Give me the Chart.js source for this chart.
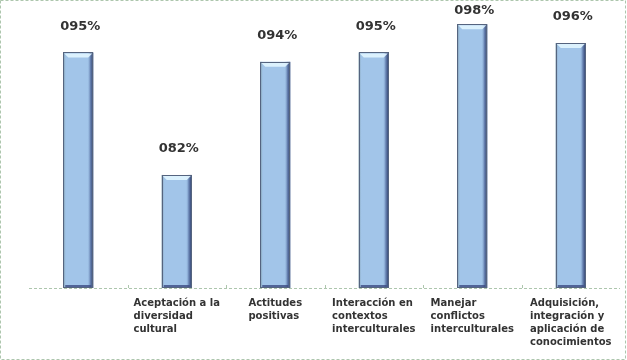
<!DOCTYPE html>
<html>
<head>
<meta charset="utf-8">
<script src="https://cdn.jsdelivr.net/npm/chart.js@4.4.1/dist/chart.umd.min.js"></script>
<style>
  html, body { margin: 0; padding: 0; background: #fff; }
  #wrap { width: 627px; height: 360px; }
</style>
</head>
<body>
<div id="wrap"><canvas id="Chart" width="627" height="360"></canvas></div>
<script>
'use strict';
// ********************* DATA ********************
const categories = [
  [''],
  ['Aceptación a la', 'diversidad', 'cultural'],
  ['Actitudes', 'positivas'],
  ['Interacción en', 'contextos', 'interculturales'],
  ['Manejar', 'conflictos', 'interculturales'],
  ['Adquisición,', 'integración y', 'aplicación de', 'conocimientos']
];
const percentValues = [95, 82, 94, 95, 98, 96];

// ********************* HELPERS ********************
const textColor = '#333333';
const frameColor = '#adc6ad';

function pad3(v) {
  return String(Math.round(v)).padStart(3, '0') + '%';
}

// frame, bar edges/bevels, value labels and wrapped category labels
const decoPlugin = {
  id: 'deco',
  afterDatasetsDraw(chart) {
    const c = chart.ctx;
    const meta = chart.getDatasetMeta(0);
    const xs = chart.scales.x;
    const bottom = chart.chartArea.bottom;
    c.save();
    meta.data.forEach((bar) => {
      const half = bar.width / 2;
      const left = bar.x - half, right = bar.x + half;
      const base = Math.min(bar.base, bottom);
      const h = base - bar.y;
      // side shading
      const g = c.createLinearGradient(left, 0, right, 0);
      g.addColorStop(0, 'rgba(110,135,135,0.9)');
      g.addColorStop(0.1, 'rgba(160,196,232,0)');
      g.addColorStop(0.8, 'rgba(160,196,232,0)');
      g.addColorStop(0.9, 'rgba(90,115,165,0.8)');
      g.addColorStop(1, 'rgba(40,55,100,1)');
      c.fillStyle = g;
      c.fillRect(left, bar.y, bar.width, h);
      // top highlight bevel
      c.fillStyle = 'rgba(225,245,255,0.9)';
      c.beginPath();
      c.moveTo(left + 1, bar.y + 1);
      c.lineTo(right - 1, bar.y + 1);
      c.lineTo(right - 5, bar.y + 5);
      c.lineTo(left + 5, bar.y + 5);
      c.closePath();
      c.fill();
      // bottom dark bevel
      c.fillStyle = 'rgba(60,75,130,0.8)';
      c.fillRect(left + 2, base - 3, bar.width - 4, 2);
      c.strokeStyle = '#55647f';
      c.lineWidth = 1;
      c.strokeRect(Math.round(left) + 0.5, Math.round(bar.y) + 0.5, Math.round(bar.width) - 1, Math.round(h) - 1);
    });

    // axis line with small category separators
    c.strokeStyle = frameColor;
    c.setLineDash([3, 2]);
    c.beginPath();
    c.moveTo(xs.left, xs.top + 0.5);
    c.lineTo(xs.right, xs.top + 0.5);
    c.stroke();
    c.setLineDash([]);
    for (let i = 1; i < categories.length; i++) {
      const x = Math.round((xs.getPixelForValue(i - 1) + xs.getPixelForValue(i)) / 2) + 0.5;
      c.beginPath();
      c.moveTo(x, xs.top - 3);
      c.lineTo(x, xs.top);
      c.stroke();
    }

    // value labels
    c.font = 'bold 13px "DejaVu Sans"';
    c.fillStyle = textColor;
    c.textAlign = 'center';
    c.textBaseline = 'middle';
    meta.data.forEach((bar, i) => {
      const y = Math.max(11, bar.y - 26);
      c.fillText(pad3(percentValues[i]), bar.x + 2, y);
    });

    // category labels: left aligned block, centered under the bar
    c.font = 'bold 10px "DejaVu Sans"';
    c.textAlign = 'left';
    categories.forEach((lines, i) => {
      const cx = xs.getPixelForValue(i);
      let w = 0;
      lines.forEach(l => { w = Math.max(w, c.measureText(l).width); });
      lines.forEach((l, j) => {
        c.fillText(l, cx - w / 2, xs.top + 15 + j * 13);
      });
    });

    // dashed outer frame
    c.strokeStyle = frameColor;
    c.setLineDash([3, 2]);
    c.strokeRect(0.5, 0.5, 625, 359);
    c.restore();
  }
};

// ********************* THE CHART ********************
function renderChart() {
  const chartObj = {
    type: 'bar',
    data: {
      labels: categories.map(l => l.join(' ')),
      datasets: [{
        data: percentValues,
        backgroundColor: '#a2c5e9',
        borderWidth: 0,
        categoryPercentage: 1,
        barPercentage: 0.305
      }]
    },
    options: {
      responsive: false,
      animation: false,
      layout: { padding: { left: 29, right: 7, top: 10, bottom: 0 } },
      plugins: {
        legend: { display: false },
        tooltip: { enabled: false }
      },
      scales: {
        y: { display: false, min: 70, max: 99.5 },
        x: {
          afterFit(scale) { scale.height = 72; },
          ticks: { display: false },
          grid: { display: false },
          border: { display: false }
        }
      }
    },
    plugins: [decoPlugin]
  };
  new Chart(document.getElementById('Chart'), chartObj);
}

renderChart();
</script>
</body>
</html>
